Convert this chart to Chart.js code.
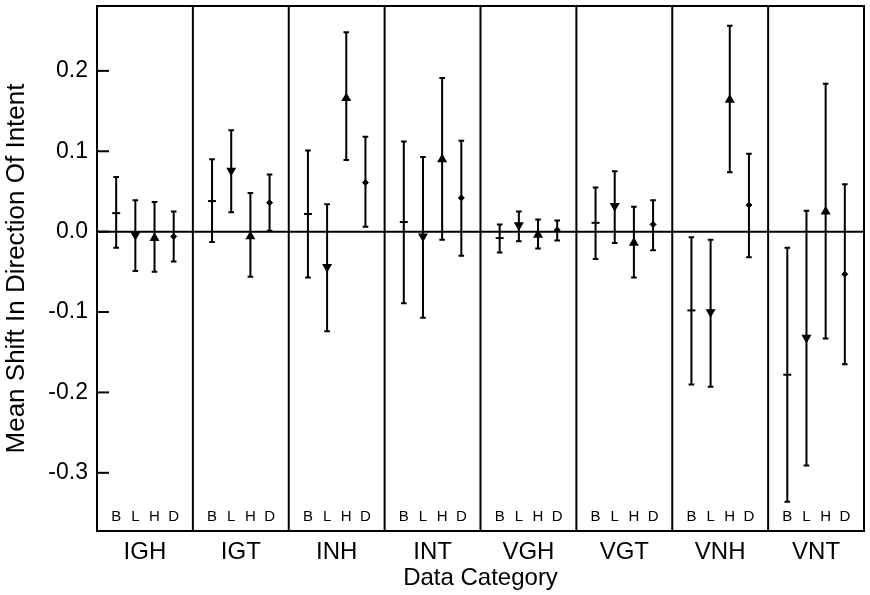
<!DOCTYPE html>
<html>
<head>
<meta charset="utf-8">
<script src="https://cdn.jsdelivr.net/npm/chart.js@4/dist/chart.umd.min.js"></script>
<style>
  html, body { margin: 0; padding: 0; background: #fff; }
  canvas { display: block; }
</style>
</head>
<body>
<canvas id="chart" width="870" height="595"></canvas>
<script>
// categories along the bottom, and the four conditions inside each panel
const categories = ["IGH", "IGT", "INH", "INT", "VGH", "VGT", "VNH", "VNT"];
const subLabels = ["B", "L", "H", "D"];
const yTicks = [-0.3, -0.2, -0.1, 0.0, 0.1, 0.2];

// B : mean and error bar ends
const bMean = [0.023, 0.038, 0.022, 0.012, -0.008, 0.011, -0.098, -0.178];
const bLow  = [-0.020, -0.013, -0.057, -0.089, -0.026, -0.034, -0.190, -0.336];
const bHigh = [0.068, 0.090, 0.101, 0.112, 0.009, 0.055, -0.007, -0.020];

// L
const lMean = [-0.004, 0.076, -0.044, -0.006, 0.008, 0.032, -0.100, -0.132];
const lLow  = [-0.049, 0.024, -0.124, -0.107, -0.012, -0.014, -0.193, -0.291];
const lHigh = [0.039, 0.126, 0.034, 0.093, 0.025, 0.075, -0.010, 0.026];

// H
const hMean = [-0.008, -0.006, 0.166, 0.090, -0.004, -0.014, 0.164, 0.025];
const hLow  = [-0.050, -0.056, 0.089, -0.010, -0.021, -0.057, 0.074, -0.133];
const hHigh = [0.037, 0.048, 0.248, 0.191, 0.015, 0.031, 0.256, 0.184];

// D
const dMean = [-0.006, 0.036, 0.061, 0.042, 0.002, 0.009, 0.033, -0.053];
const dLow  = [-0.037, 0.001, 0.006, -0.030, -0.011, -0.023, -0.032, -0.165];
const dHigh = [0.025, 0.071, 0.118, 0.113, 0.014, 0.039, 0.097, 0.059];

const FONT = "'Liberation Sans', Arial, Helvetica, sans-serif";

/* =========================
   DATASETS
========================== */
const series = [
    { mean: bMean, low: bLow, high: bHigh, style: "line", radius: 4, rotation: 0, bw: 2 },
    { mean: lMean, low: lLow, high: lHigh, style: "triangle", radius: 4.4, rotation: 180, bw: 1.4 },
    { mean: hMean, low: hLow, high: hHigh, style: "triangle", radius: 4.4, rotation: 0, bw: 1.4 },
    { mean: dMean, low: dLow, high: dHigh, style: "rectRot", radius: 3, rotation: 0, bw: 1 }
];

const datasets = series.map((s, k) => ({
    label: subLabels[k],
    data: categories.map((c, i) => ({
        x: i + 0.2 * (k + 1),
        y: s.mean[i],
        lo: s.low[i],
        hi: s.high[i]
    })),
    showLine: false,
    pointStyle: s.style,
    pointRadius: s.radius,
    pointRotation: s.rotation,
    pointBackgroundColor: "#000",
    pointBorderColor: "#000",
    pointBorderWidth: s.bw
}));

/* =========================
   PANELS, ERROR BARS, FRAME
========================== */
const panelPlugin = {
    id: "panels",
    beforeDatasetsDraw(chart) {
        const { ctx, chartArea: a, scales: { x, y } } = chart;
        ctx.save();
        ctx.strokeStyle = "#000";

        // panel dividers
        ctx.lineWidth = 2;
        for (let i = 1; i < categories.length; i++) {
            const px = x.getPixelForValue(i);
            ctx.beginPath();
            ctx.moveTo(px, a.top);
            ctx.lineTo(px, a.bottom);
            ctx.stroke();
        }

        // zero line
        const y0 = y.getPixelForValue(0);
        ctx.beginPath();
        ctx.moveTo(a.left, y0);
        ctx.lineTo(a.right, y0);
        ctx.stroke();

        // inward tick marks on the y axis
        yTicks.forEach(v => {
            const py = y.getPixelForValue(v);
            ctx.beginPath();
            ctx.moveTo(a.left, py);
            ctx.lineTo(a.left + 12, py);
            ctx.stroke();
        });

        // error bars
        chart.data.datasets.forEach(ds => {
            ds.data.forEach(p => {
                const px = x.getPixelForValue(p.x);
                const pLo = y.getPixelForValue(p.lo);
                const pHi = y.getPixelForValue(p.hi);
                ctx.beginPath();
                ctx.moveTo(px, pLo);
                ctx.lineTo(px, pHi);
                ctx.moveTo(px - 2.8, pLo);
                ctx.lineTo(px + 2.8, pLo);
                ctx.moveTo(px - 2.8, pHi);
                ctx.lineTo(px + 2.8, pHi);
                ctx.stroke();
            });
        });

        // B L H D letters at the bottom of each panel
        ctx.fillStyle = "#000";
        ctx.font = "15px " + FONT;
        ctx.textAlign = "center";
        ctx.textBaseline = "middle";
        categories.forEach((c, i) => {
            subLabels.forEach((s, k) => {
                ctx.fillText(s, x.getPixelForValue(i + 0.2 * (k + 1)), a.bottom - 14);
            });
        });
        ctx.restore();
    },
    afterDraw(chart) {
        const { ctx, chartArea: a } = chart;
        ctx.save();
        ctx.strokeStyle = "#000";
        ctx.lineWidth = 2;
        ctx.strokeRect(a.left, a.top, a.right - a.left, a.bottom - a.top);
        ctx.restore();
    }
};

/* =========================
   CHART
========================== */
new Chart(document.getElementById("chart"), {
    type: "scatter",
    data: { datasets },
    plugins: [panelPlugin],
    options: {
        responsive: false,
        animation: false,
        layout: { padding: { top: 4, right: 6, left: 0, bottom: 0 } },
        plugins: {
            legend: { display: false },
            tooltip: { enabled: false }
        },
        scales: {
            x: {
                type: "linear",
                min: 0,
                max: categories.length,
                grid: { display: false },
                border: { display: false },
                afterBuildTicks: scale => {
                    scale.ticks = categories.map((c, i) => ({ value: i + 0.5 }));
                },
                afterFit: scale => {
                    scale.height = 64;
                    scale.paddingLeft = 0;
                    scale.paddingRight = 0;
                },
                ticks: {
                    color: "#000",
                    padding: -1,
                    maxRotation: 0,
                    font: { family: FONT, size: 24 },
                    callback: v => categories[Math.floor(v)]
                },
                title: {
                    display: true,
                    text: "Data Category",
                    color: "#000",
                    padding: { top: 0, bottom: 2 },
                    font: { family: FONT, size: 24 }
                }
            },
            y: {
                min: -0.3724,
                max: 0.2807,
                grid: { display: false },
                border: { display: false },
                afterBuildTicks: scale => {
                    scale.ticks = yTicks.map(v => ({ value: v }));
                },
                afterFit: scale => {
                    scale.width = 97;
                    scale.paddingTop = 0;
                    scale.paddingBottom = 0;
                },
                ticks: {
                    color: "#000",
                    padding: 1,
                    font: { family: FONT, size: 23 },
                    callback: v => v.toFixed(1)
                },
                title: {
                    display: true,
                    text: "Mean Shift In Direction Of Intent",
                    color: "#000",
                    padding: { top: 1, bottom: 0 },
                    font: { family: FONT, size: 26 }
                }
            }
        }
    }
});
</script>
</body>
</html>
